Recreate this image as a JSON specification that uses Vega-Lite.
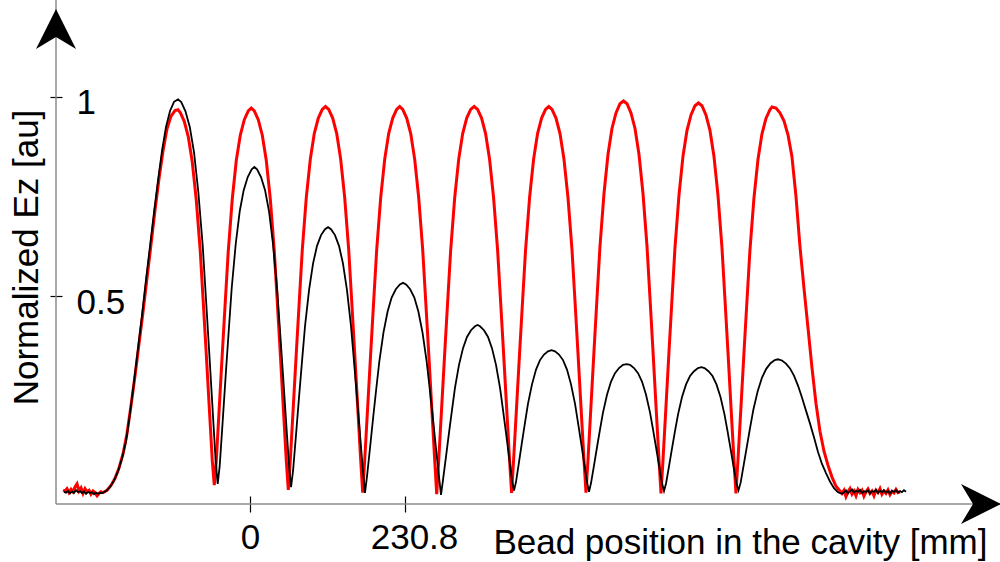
{
"$schema": "https://vega.github.io/schema/vega-lite/v6.json",
"width": 944, "height": 504,
"autosize": {"type": "none"},
"padding": {"left": 56, "top": 0, "right": 0, "bottom": 58},
"background": "white",
"config": {"view": {"stroke": null}, "font": "Liberation Sans"},
"datasets": {
"red": [
{"x":-278.4,"y":0.012},{"x":-275.5,"y":0.01},{"x":-272.5,"y":0.016},{"x":-269.5,"y":0.006},{"x":-266.5,"y":0.014},{"x":-263.6,"y":0.008},{"x":-260.6,"y":0.02},{"x":-257.6,"y":0.028},{"x":-254.6,"y":0.01},{"x":-251.6,"y":0.018},{"x":-248.7,"y":0.004},{"x":-245.7,"y":0.016},{"x":-242.7,"y":0.008},{"x":-239.7,"y":0.012},{"x":-236.8,"y":0.002},{"x":-233.8,"y":0.01},{"x":-230.8,"y":0.006},{"x":-227.8,"y":-0.002},{"x":-224.8,"y":0.004},{"x":-221.9,"y":0.008},
{"x":-218.9,"y":0.006},{"x":-212.9,"y":0.012},{"x":-207.0,"y":0.024},{"x":-201.0,"y":0.042},{"x":-195.1,"y":0.068},{"x":-189.1,"y":0.103},{"x":-183.1,"y":0.155},{"x":-177.2,"y":0.225},{"x":-171.2,"y":0.30},{"x":-165.3,"y":0.38},{"x":-159.3,"y":0.46},{"x":-153.4,"y":0.545},{"x":-147.4,"y":0.63},{"x":-141.5,"y":0.715},{"x":-135.5,"y":0.795},{"x":-129.5,"y":0.865},{"x":-123.6,"y":0.92},{"x":-117.6,"y":0.952},{"x":-111.7,"y":0.966},{"x":-107.2,"y":0.968},
{"x":-103.8,"y":0.961},{"x":-97.9,"y":0.939},{"x":-91.9,"y":0.90},{"x":-86.0,"y":0.837},{"x":-80.0,"y":0.741},{"x":-74.0,"y":0.61},{"x":-69.6,"y":0.484},{"x":-65.1,"y":0.353},{"x":-60.6,"y":0.218},{"x":-56.2,"y":0.087},{"x":-53.2,"y":0.025},
{"x":-50.2,"y":0.087},{"x":-45.8,"y":0.219},{"x":-41.3,"y":0.355},{"x":-36.8,"y":0.486},{"x":-32.4,"y":0.612},{"x":-26.4,"y":0.744},{"x":-20.4,"y":0.841},{"x":-14.5,"y":0.904},{"x":-8.5,"y":0.943},{"x":-2.6,"y":0.965},{"x":1.9,"y":0.972},{"x":6.4,"y":0.965},{"x":12.3,"y":0.943},{"x":18.3,"y":0.904},{"x":24.2,"y":0.841},{"x":30.2,"y":0.744},{"x":36.2,"y":0.612},{"x":40.6,"y":0.486},{"x":45.1,"y":0.355},{"x":49.6,"y":0.219},{"x":54.0,"y":0.087},{"x":57.0,"y":0.013},
{"x":60.0,"y":0.088},{"x":64.4,"y":0.22},{"x":68.9,"y":0.356},{"x":73.4,"y":0.488},{"x":77.8,"y":0.615},{"x":83.8,"y":0.747},{"x":89.8,"y":0.844},{"x":95.7,"y":0.908},{"x":101.7,"y":0.947},{"x":107.6,"y":0.969},{"x":112.4,"y":0.976},{"x":117.2,"y":0.969},{"x":123.1,"y":0.947},{"x":129.1,"y":0.908},{"x":135.0,"y":0.844},{"x":141.0,"y":0.747},{"x":147.0,"y":0.615},{"x":151.4,"y":0.488},{"x":155.9,"y":0.356},{"x":160.4,"y":0.22},{"x":164.8,"y":0.088},{"x":167.8,"y":0.006},
{"x":170.8,"y":0.088},{"x":175.2,"y":0.22},{"x":179.7,"y":0.356},{"x":184.2,"y":0.488},{"x":188.6,"y":0.615},{"x":194.6,"y":0.747},{"x":200.6,"y":0.844},{"x":206.5,"y":0.908},{"x":212.5,"y":0.947},{"x":218.4,"y":0.969},{"x":222.9,"y":0.976},{"x":227.4,"y":0.969},{"x":233.3,"y":0.947},{"x":239.3,"y":0.908},{"x":245.2,"y":0.844},{"x":251.2,"y":0.747},{"x":257.2,"y":0.615},{"x":261.6,"y":0.488},{"x":266.1,"y":0.356},{"x":270.6,"y":0.22},{"x":275.0,"y":0.088},{"x":278.0,"y":0.002},
{"x":281.0,"y":0.088},{"x":285.4,"y":0.22},{"x":289.9,"y":0.356},{"x":294.4,"y":0.488},{"x":298.8,"y":0.615},{"x":304.8,"y":0.747},{"x":310.8,"y":0.844},{"x":316.7,"y":0.908},{"x":322.7,"y":0.947},{"x":328.6,"y":0.969},{"x":333.8,"y":0.976},{"x":338.9,"y":0.969},{"x":344.8,"y":0.947},{"x":350.8,"y":0.908},{"x":356.7,"y":0.844},{"x":362.7,"y":0.747},{"x":368.7,"y":0.615},{"x":373.1,"y":0.488},{"x":377.6,"y":0.356},{"x":382.1,"y":0.22},{"x":386.5,"y":0.088},{"x":389.5,"y":0.005},
{"x":392.5,"y":0.088},{"x":396.9,"y":0.22},{"x":401.4,"y":0.356},{"x":405.9,"y":0.488},{"x":410.3,"y":0.615},{"x":416.3,"y":0.747},{"x":422.3,"y":0.844},{"x":428.2,"y":0.908},{"x":434.2,"y":0.947},{"x":440.1,"y":0.969},{"x":444.9,"y":0.976},{"x":449.7,"y":0.969},{"x":455.6,"y":0.947},{"x":461.6,"y":0.908},{"x":467.5,"y":0.844},{"x":473.5,"y":0.747},{"x":479.5,"y":0.615},{"x":483.9,"y":0.488},{"x":488.4,"y":0.356},{"x":492.9,"y":0.22},{"x":497.3,"y":0.088},{"x":500.3,"y":0.006},
{"x":503.3,"y":0.089},{"x":507.7,"y":0.223},{"x":512.2,"y":0.361},{"x":516.7,"y":0.495},{"x":521.1,"y":0.624},{"x":527.1,"y":0.757},{"x":533.1,"y":0.856},{"x":539.0,"y":0.921},{"x":545.0,"y":0.96},{"x":550.9,"y":0.983},{"x":556.2,"y":0.99},{"x":561.4,"y":0.983},{"x":567.3,"y":0.96},{"x":573.3,"y":0.921},{"x":579.2,"y":0.856},{"x":585.2,"y":0.757},{"x":591.2,"y":0.624},{"x":595.6,"y":0.495},{"x":600.1,"y":0.361},{"x":604.6,"y":0.223},{"x":609.0,"y":0.089},{"x":612.0,"y":0.004},
{"x":615.0,"y":0.089},{"x":619.4,"y":0.222},{"x":623.9,"y":0.36},{"x":628.4,"y":0.493},{"x":632.8,"y":0.621},{"x":638.8,"y":0.754},{"x":644.8,"y":0.852},{"x":650.7,"y":0.916},{"x":656.7,"y":0.955},{"x":662.6,"y":0.978},{"x":667.8,"y":0.985},{"x":673.0,"y":0.978},{"x":678.9,"y":0.955},{"x":684.9,"y":0.916},{"x":690.8,"y":0.852},{"x":696.8,"y":0.754},{"x":702.8,"y":0.621},{"x":707.2,"y":0.493},{"x":711.7,"y":0.36},{"x":716.2,"y":0.222},{"x":720.6,"y":0.089},{"x":723.6,"y":0.004},
{"x":726.6,"y":0.088},{"x":731.0,"y":0.219},{"x":735.5,"y":0.356},{"x":740.0,"y":0.488},{"x":744.4,"y":0.614},{"x":750.4,"y":0.746},{"x":756.4,"y":0.843},{"x":762.3,"y":0.907},{"x":768.3,"y":0.946},{"x":774.2,"y":0.968},{"x":777.3,"y":0.975},{"x":783.2,"y":0.972},{"x":789.1,"y":0.96},{"x":795.1,"y":0.94},{"x":801.1,"y":0.905},{"x":807.0,"y":0.85},{"x":813.0,"y":0.75},{"x":818.9,"y":0.625},{"x":824.9,"y":0.52},{"x":830.9,"y":0.42},{"x":836.8,"y":0.32},{"x":842.8,"y":0.23},{"x":848.7,"y":0.16},{"x":854.7,"y":0.11},{"x":860.6,"y":0.075},{"x":866.6,"y":0.045},{"x":872.6,"y":0.022},{"x":878.5,"y":0.01},
{"x":881.5,"y":0.004},{"x":884.5,"y":0.012},{"x":887.4,"y":-0.004},{"x":890.4,"y":0.008},{"x":893.4,"y":0.016},{"x":896.4,"y":0.002},{"x":899.4,"y":0.01},{"x":902.3,"y":-0.002},{"x":905.3,"y":0.014},{"x":908.3,"y":0.006},{"x":911.3,"y":0.012},{"x":914.2,"y":-0.003},{"x":917.2,"y":0.008},{"x":920.2,"y":0.015},{"x":923.2,"y":0.004},{"x":926.2,"y":0.01},{"x":929.1,"y":-0.002},{"x":932.1,"y":0.012},{"x":935.1,"y":0.006},{"x":938.1,"y":0.016},{"x":941.0,"y":0.002},{"x":944.0,"y":0.01},{"x":947.0,"y":0.004},{"x":950.0,"y":0.013},{"x":953.0,"y":0.001},{"x":955.9,"y":0.009},{"x":958.9,"y":0.005},{"x":961.9,"y":0.014},{"x":964.9,"y":0.006},{"x":967.9,"y":0.008}
],
"black": [
{"x":-277.0,"y":0.008},{"x":-274.0,"y":0.006},{"x":-271.0,"y":0.01},{"x":-268.0,"y":0.004},{"x":-265.0,"y":0.009},{"x":-262.1,"y":0.005},{"x":-259.1,"y":0.012},{"x":-256.1,"y":0.007},{"x":-253.1,"y":0.01},{"x":-250.2,"y":0.005},{"x":-247.2,"y":0.009},{"x":-244.2,"y":0.003},{"x":-241.2,"y":0.008},{"x":-238.2,"y":0.005},{"x":-235.3,"y":0.007},{"x":-232.3,"y":0.002},{"x":-229.3,"y":0.006},{"x":-226.3,"y":0.003},{"x":-223.4,"y":0.005},
{"x":-220.4,"y":0.005},{"x":-214.4,"y":0.01},{"x":-208.5,"y":0.02},{"x":-202.5,"y":0.036},{"x":-196.5,"y":0.06},{"x":-190.6,"y":0.092},{"x":-184.6,"y":0.135},{"x":-178.7,"y":0.205},{"x":-172.7,"y":0.285},{"x":-166.8,"y":0.368},{"x":-160.8,"y":0.452},{"x":-154.9,"y":0.54},{"x":-148.9,"y":0.625},{"x":-142.9,"y":0.71},{"x":-137.0,"y":0.79},{"x":-131.0,"y":0.865},{"x":-125.1,"y":0.925},{"x":-119.1,"y":0.965},{"x":-113.2,"y":0.988},{"x":-107.2,"y":0.994},
{"x":-102.4,"y":0.987},{"x":-96.1,"y":0.964},{"x":-89.6,"y":0.924},{"x":-83.3,"y":0.86},{"x":-76.9,"y":0.76},{"x":-70.4,"y":0.626},{"x":-65.7,"y":0.497},{"x":-60.9,"y":0.363},{"x":-56.0,"y":0.224},{"x":-51.3,"y":0.089},{"x":-48.1,"y":0.028},
{"x":-45.1,"y":0.074},{"x":-40.7,"y":0.185},{"x":-36.2,"y":0.301},{"x":-31.7,"y":0.412},{"x":-27.3,"y":0.519},{"x":-21.3,"y":0.63},{"x":-15.3,"y":0.713},{"x":-9.4,"y":0.766},{"x":-3.4,"y":0.799},{"x":2.5,"y":0.818},{"x":6.5,"y":0.824},{"x":10.5,"y":0.818},{"x":16.4,"y":0.799},{"x":22.4,"y":0.766},{"x":28.3,"y":0.713},{"x":34.3,"y":0.63},{"x":40.3,"y":0.519},{"x":44.7,"y":0.412},{"x":49.2,"y":0.301},{"x":53.7,"y":0.185},{"x":58.1,"y":0.074},{"x":61.1,"y":0.02},
{"x":64.1,"y":0.061},{"x":68.5,"y":0.151},{"x":73.0,"y":0.246},{"x":77.5,"y":0.337},{"x":81.9,"y":0.424},{"x":87.9,"y":0.515},{"x":93.9,"y":0.582},{"x":99.8,"y":0.626},{"x":105.8,"y":0.653},{"x":111.7,"y":0.668},{"x":116.2,"y":0.673},{"x":120.6,"y":0.668},{"x":126.5,"y":0.653},{"x":132.5,"y":0.626},{"x":138.4,"y":0.582},{"x":144.4,"y":0.515},{"x":150.4,"y":0.424},{"x":154.8,"y":0.337},{"x":159.3,"y":0.246},{"x":163.8,"y":0.151},{"x":168.2,"y":0.061},{"x":171.2,"y":0.005},
{"x":174.3,"y":0.048},{"x":178.8,"y":0.12},{"x":183.4,"y":0.195},{"x":188.0,"y":0.267},{"x":192.6,"y":0.336},{"x":198.7,"y":0.408},{"x":204.9,"y":0.461},{"x":210.9,"y":0.496},{"x":217.1,"y":0.517},{"x":223.2,"y":0.529},{"x":227.8,"y":0.533},{"x":232.4,"y":0.529},{"x":238.5,"y":0.517},{"x":244.7,"y":0.496},{"x":250.7,"y":0.461},{"x":256.9,"y":0.408},{"x":263.0,"y":0.336},{"x":267.6,"y":0.267},{"x":272.2,"y":0.195},{"x":276.8,"y":0.12},{"x":281.3,"y":0.048},{"x":284.4,"y":0.0},
{"x":287.4,"y":0.038},{"x":291.8,"y":0.096},{"x":296.3,"y":0.156},{"x":300.8,"y":0.214},{"x":305.2,"y":0.269},{"x":311.2,"y":0.327},{"x":317.2,"y":0.369},{"x":323.1,"y":0.397},{"x":329.1,"y":0.414},{"x":335.0,"y":0.424},{"x":338.8,"y":0.427},{"x":342.5,"y":0.424},{"x":348.4,"y":0.414},{"x":354.4,"y":0.397},{"x":360.3,"y":0.369},{"x":366.3,"y":0.327},{"x":372.3,"y":0.269},{"x":376.7,"y":0.214},{"x":381.2,"y":0.156},{"x":385.7,"y":0.096},{"x":390.1,"y":0.038},{"x":393.1,"y":0.011},
{"x":396.1,"y":0.033},{"x":400.5,"y":0.082},{"x":405.0,"y":0.133},{"x":409.5,"y":0.182},{"x":413.9,"y":0.229},{"x":419.9,"y":0.278},{"x":425.9,"y":0.315},{"x":431.8,"y":0.339},{"x":437.8,"y":0.353},{"x":443.7,"y":0.361},{"x":449.0,"y":0.364},{"x":454.2,"y":0.361},{"x":460.1,"y":0.353},{"x":466.1,"y":0.339},{"x":472.0,"y":0.315},{"x":478.0,"y":0.278},{"x":484.0,"y":0.229},{"x":488.4,"y":0.182},{"x":492.9,"y":0.133},{"x":497.4,"y":0.082},{"x":501.8,"y":0.033},{"x":504.8,"y":0.008},
{"x":507.8,"y":0.03},{"x":512.2,"y":0.074},{"x":516.7,"y":0.12},{"x":521.2,"y":0.165},{"x":525.6,"y":0.207},{"x":531.6,"y":0.252},{"x":537.6,"y":0.285},{"x":543.5,"y":0.306},{"x":549.5,"y":0.319},{"x":555.4,"y":0.327},{"x":560.7,"y":0.329},{"x":565.9,"y":0.327},{"x":571.8,"y":0.319},{"x":577.8,"y":0.306},{"x":583.7,"y":0.285},{"x":589.7,"y":0.252},{"x":595.7,"y":0.207},{"x":600.1,"y":0.165},{"x":604.6,"y":0.12},{"x":609.1,"y":0.074},{"x":613.5,"y":0.03},{"x":616.5,"y":0.01},
{"x":619.5,"y":0.029},{"x":623.9,"y":0.072},{"x":628.4,"y":0.117},{"x":632.9,"y":0.161},{"x":637.3,"y":0.202},{"x":643.3,"y":0.246},{"x":649.3,"y":0.278},{"x":655.2,"y":0.299},{"x":661.2,"y":0.311},{"x":667.1,"y":0.319},{"x":672.0,"y":0.321},{"x":676.8,"y":0.319},{"x":682.7,"y":0.311},{"x":688.7,"y":0.299},{"x":694.6,"y":0.278},{"x":700.6,"y":0.246},{"x":706.6,"y":0.202},{"x":711.0,"y":0.161},{"x":715.5,"y":0.117},{"x":720.0,"y":0.072},{"x":724.4,"y":0.029},{"x":727.4,"y":0.012},
{"x":730.6,"y":0.031},{"x":735.3,"y":0.077},{"x":740.1,"y":0.124},{"x":744.9,"y":0.171},{"x":749.6,"y":0.215},{"x":756.0,"y":0.261},{"x":762.4,"y":0.295},{"x":768.7,"y":0.317},{"x":775.1,"y":0.331},{"x":781.4,"y":0.339},{"x":786.2,"y":0.341},{"x":792.1,"y":0.338},{"x":798.1,"y":0.33},{"x":804.1,"y":0.318},{"x":810.0,"y":0.30},{"x":816.0,"y":0.275},{"x":821.9,"y":0.245},{"x":827.9,"y":0.212},{"x":833.8,"y":0.18},{"x":839.8,"y":0.145},{"x":845.8,"y":0.108},{"x":851.7,"y":0.078},{"x":857.7,"y":0.055},{"x":863.6,"y":0.034},{"x":869.6,"y":0.017},{"x":875.5,"y":0.007},{"x":881.5,"y":0.003},
{"x":884.5,"y":0.006},{"x":887.4,"y":0.012},{"x":890.4,"y":0.004},{"x":893.4,"y":0.01},{"x":896.4,"y":0.014},{"x":899.4,"y":0.006},{"x":902.3,"y":0.011},{"x":905.3,"y":0.008},{"x":908.3,"y":0.013},{"x":911.3,"y":0.005},{"x":914.2,"y":0.01},{"x":917.2,"y":0.007},{"x":920.2,"y":0.012},{"x":923.2,"y":0.004},{"x":926.2,"y":0.01},{"x":929.1,"y":0.008},{"x":932.1,"y":0.013},{"x":935.1,"y":0.005},{"x":938.1,"y":0.011},{"x":941.0,"y":0.007},{"x":944.0,"y":0.012},{"x":947.0,"y":0.006},{"x":950.0,"y":0.01},{"x":953.0,"y":0.004},{"x":955.9,"y":0.011},{"x":958.9,"y":0.008},{"x":961.9,"y":0.012},{"x":964.9,"y":0.006},{"x":967.9,"y":0.01},{"x":970.8,"y":0.007},{"x":973.8,"y":0.012},{"x":976.8,"y":0.008}
]
},
"layer": [
{"data": {"values": [{}]},
 "mark": {"type": "rule", "color": "#8c8c8c", "strokeWidth": 1.5},
 "encoding": {"x": {"datum": -288.9, "type": "quantitative", "scale": {"domain": [-288.9, 1116.8], "nice": false, "zero": false}}}},
{"data": {"values": [{}]},
 "mark": {"type": "rule", "color": "#8c8c8c", "strokeWidth": 1.5},
 "encoding": {"y": {"datum": -0.0226, "type": "quantitative", "scale": {"domain": [-0.0226, 1.2437], "nice": false, "zero": false}}}},
{"data": {"name": "red"},
 "mark": {"type": "line", "color": "#ff0000", "strokeWidth": 3},
 "encoding": {
  "x": {"field": "x", "type": "quantitative", "scale": {"domain": [-288.9, 1116.8], "nice": false, "zero": false},
   "axis": {"values": [0, 230.8], "format": ".1~f", "domain": false, "grid": false, "offset": -8,
    "tickSize": 16, "tickColor": "black", "tickWidth": 1.2,
    "labelFont": "Liberation Sans", "labelFontSize": 35, "labelColor": "black", "labelBaseline": "alphabetic", "labelPadding": 36,
    "labelOffset": {"condition": {"test": "datum.value > 100", "value": 9}, "value": 0},
    "title": "Bead position in the cavity [mm]", "titleFont": "Liberation Sans", "titleFontSize": 35, "titleFontWeight": "normal", "titleColor": "black",
    "titleX": 931, "titleY": 57, "titleAlign": "right", "titleBaseline": "alphabetic", "titleAngle": 0}},
  "y": {"field": "y", "type": "quantitative", "scale": {"domain": [-0.0226, 1.2437], "nice": false, "zero": false},
   "axis": {"values": [0.5, 1], "format": ".1~f", "domain": false, "grid": false, "offset": -6,
    "tickSize": 12, "tickColor": "black", "tickWidth": 1.2,
    "labelFont": "Liberation Sans", "labelFontSize": 35, "labelColor": "black", "labelAlign": "left", "labelBaseline": "alphabetic", "labelPadding": -26, "labelOffset": 17,
    "title": "Normalized Ez [au]", "titleFont": "Liberation Sans", "titleFontSize": 35, "titleFontWeight": "normal", "titleColor": "black",
    "titleX": -25, "titleY": 257, "titleAlign": "center", "titleBaseline": "alphabetic", "titleAngle": -90}}
 }},
{"data": {"name": "black"},
 "mark": {"type": "line", "color": "#000000", "strokeWidth": 1.8},
 "encoding": {
  "x": {"field": "x", "type": "quantitative", "scale": {"domain": [-288.9, 1116.8], "nice": false, "zero": false}},
  "y": {"field": "y", "type": "quantitative", "scale": {"domain": [-0.0226, 1.2437], "nice": false, "zero": false}}
 }},
{"data": {"values": [{}]},
 "mark": {"type": "point", "shape": "M0,-1L1,1L0,0.4L-1,1Z", "size": 1600, "filled": true, "color": "black", "opacity": 1, "strokeWidth": 0},
 "encoding": {
  "x": {"datum": -288.9, "type": "quantitative"},
  "y": {"datum": 1.1709, "type": "quantitative"}
 }},
{"data": {"values": [{}]},
 "mark": {"type": "point", "shape": "M1,0L-1,-1L-0.4,0L-1,1Z", "size": 1600, "filled": true, "color": "black", "opacity": 1, "strokeWidth": 0},
 "encoding": {
  "x": {"datum": 1088.5, "type": "quantitative"},
  "y": {"datum": -0.0226, "type": "quantitative"}
 }}
]
}
